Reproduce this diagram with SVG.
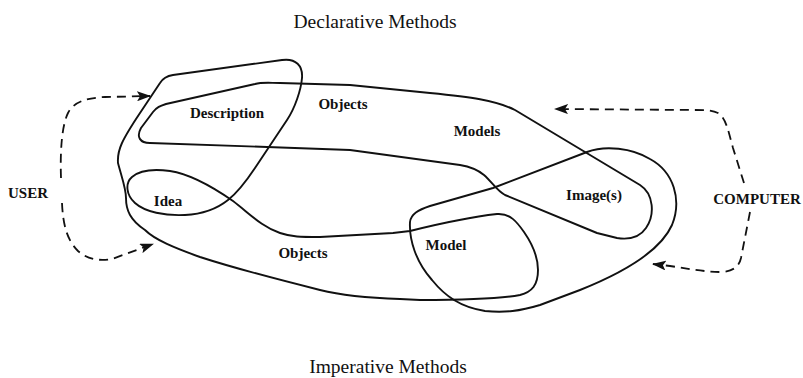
<svg xmlns="http://www.w3.org/2000/svg" width="803" height="378" viewBox="0 0 803 378">
<style>
.curve{fill:none;stroke:#111;stroke-width:1.9;stroke-linejoin:round;stroke-linecap:round}
.dash{fill:none;stroke:#111;stroke-width:1.8;stroke-dasharray:9 6}
.lbl{font-family:"Liberation Serif","Times New Roman",serif;font-size:15px;font-weight:bold;fill:#111;text-anchor:middle}
.title{font-family:"Liberation Serif","Times New Roman",serif;font-size:19.5px;fill:#111;text-anchor:middle}
</style>
<defs>
<marker id="ah" viewBox="0 0 14 10" refX="13" refY="5" markerWidth="14" markerHeight="10" markerUnits="userSpaceOnUse" orient="auto">
<path d="M0,0 L14,5 L0,10 L3,5 Z" fill="#111"/>
</marker>
</defs>
<rect width="803" height="378" fill="#fff"/>

<g id="declarative-title"><text class="title" x="375" y="28">Declarative Methods</text></g>
<g id="imperative-title"><text class="title" x="388" y="373">Imperative Methods</text></g>

<g id="declarative-region">
<path class="curve" d="M150,143 C140,143 136,137 141,128 L153,112 C157,107 160,106 166,104 L255,84 C262,82 270,83 280,83 L350,85 L430,93 C470,97 495,100 515,110 L640,185 C654,194 655,215 646,228 C640,237 630,240 617,238 L597,233 L505,195 C497,191 492,182 484,175 C478,170 472,167 460,165 L350,150 L267,147 Z"/>
</g>

<g id="user-imperative-region">
<path class="curve" d="M173,75 L282,60 C296,58 303,66 302,78 C301,90 295,108 287,120 L255,168 C245,183 237,193 228,200 C218,208 205,214 185,215 C165,216 145,212 135,203 C126,195 125,183 132,177 C140,170 155,169 170,171 C190,174 210,185 233,201 C250,214 262,227 280,233 C292,237 300,237 320,237 L393,233 L410,231 C430,226 470,217 497,214 C510,213 517,222 524,232 C533,245 538,258 538,270 C538,285 532,292 520,295 C500,299 470,300 420,300 L400,299 C370,298 340,295 320,290 C280,280 240,270 200,257 C175,248 155,240 145,230 C130,220 126,210 126,198 C126,188 121,175 118,163 C117,150 122,140 140,113 L160,83 C163,78 167,76 173,75 Z"/>
</g>

<g id="computer-region">
<path class="curve" d="M410,222 C409,240 416,262 432,280 C445,296 460,307 485,311 C505,313 520,311 540,305 L580,290 C620,274 660,252 672,225 C682,200 674,172 650,159 C632,148 605,145 587,152 L493,188 L430,206 C418,210 411,214 410,222 Z"/>
</g>

<g id="description"><text class="lbl" x="227" y="118">Description</text></g>
<g id="objects-declarative"><text class="lbl" x="343" y="109">Objects</text></g>
<g id="models"><text class="lbl" x="477" y="136">Models</text></g>
<g id="images"><text class="lbl" x="594" y="200">Image(s)</text></g>
<g id="idea"><text class="lbl" x="168" y="206">Idea</text></g>
<g id="objects-imperative"><text class="lbl" x="303" y="258">Objects</text></g>
<g id="model"><text class="lbl" x="446" y="250">Model</text></g>
<g id="user"><text class="lbl" x="28" y="198">USER</text></g>
<g id="computer"><text class="lbl" x="757" y="204">COMPUTER</text></g>

<g id="connectors">
<path class="dash" d="M61,178 C60,150 62,125 68,113 C74,101 88,98 105,97 L150,96" marker-end="url(#ah)"/>
<path class="dash" d="M62,203 C63,225 67,240 78,251 C88,260 100,261 112,259 L153,244" marker-end="url(#ah)"/>
<path class="dash" d="M744,183 L733,148 C728,130 726,118 718,113 C712,110 705,110 695,110 L555,109" marker-end="url(#ah)"/>
<path class="dash" d="M750,212 L741,258 C739,267 733,271 722,272 C705,272 690,269 670,266 L653,264" marker-end="url(#ah)"/>
</g>
</svg>
